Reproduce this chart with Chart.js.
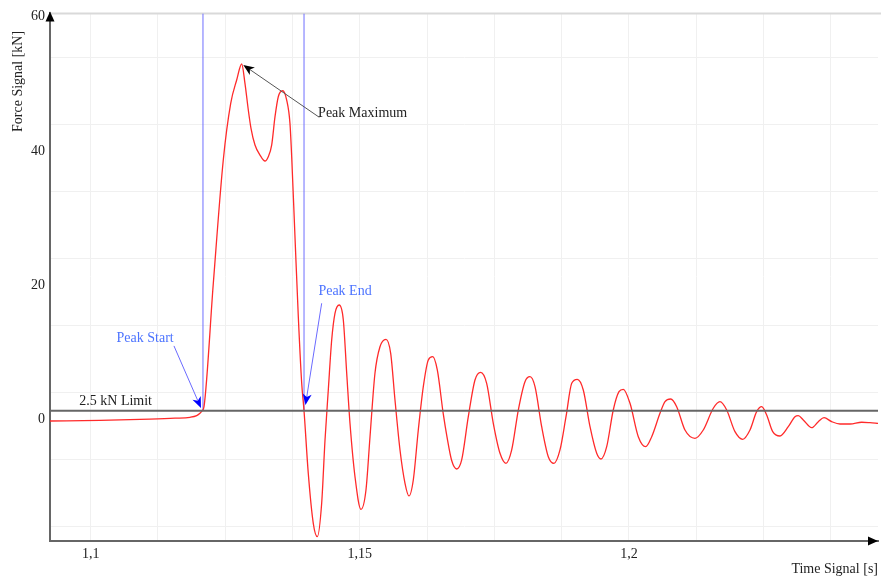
<!DOCTYPE html>
<html>
<head>
<meta charset="utf-8">
<script src="https://cdn.jsdelivr.net/npm/chart.js@4.4.0/dist/chart.umd.min.js"></script>
<style>
  html, body { margin: 0; padding: 0; background: #fff; }
  #wrap { width: 881px; height: 580px; position: relative; }
</style>
</head>
<body>
<div id="wrap"><canvas id="force"></canvas></div>
<script>
var curveTime = [
  1.09244, 1.10173, 1.11102, 1.11566, 1.11845, 1.11969, 1.12030, 1.12073, 1.12105, 1.12278,
  1.12463, 1.12601, 1.12712, 1.12805, 1.12866, 1.12928, 1.12978, 1.13052, 1.13145, 1.13238,
  1.13299, 1.13362, 1.13424, 1.13485, 1.13567, 1.13641, 1.13702, 1.13734, 1.13795, 1.13857,
  1.13920, 1.13962, 1.14042, 1.14135, 1.14210, 1.14291, 1.14353, 1.14414, 1.14477, 1.14538,
  1.14618, 1.14693, 1.14756, 1.14817, 1.14910, 1.15021, 1.15114, 1.15189, 1.15281, 1.15374,
  1.15486, 1.15573, 1.15653, 1.15746, 1.15839, 1.15913, 1.15993, 1.16086, 1.16179, 1.16272,
  1.16353, 1.16439, 1.16550, 1.16619, 1.16706, 1.16799, 1.16892, 1.17015, 1.17139, 1.17245,
  1.17356, 1.17479, 1.17604, 1.17715, 1.17821, 1.17944, 1.18068, 1.18161, 1.18254, 1.18378,
  1.18501, 1.18607, 1.18718, 1.18830, 1.18936, 1.19040, 1.19151, 1.19276, 1.19400, 1.19480,
  1.19586, 1.19708, 1.19814, 1.19894, 1.20019, 1.20173, 1.20310, 1.20422, 1.20576, 1.20669,
  1.20775, 1.20886, 1.21040, 1.21226, 1.21380, 1.21566, 1.21690, 1.21815, 1.21969, 1.22112,
  1.22248, 1.22372, 1.22465, 1.22558, 1.22670, 1.22805, 1.22959, 1.23084, 1.23145, 1.23238,
  1.23394, 1.23517, 1.23623, 1.23766, 1.23920, 1.24106, 1.24323, 1.24477, 1.24626
];
var curveForce = [
  -0.30, -0.22, -0.02, 0.12, 0.25, 0.50, 0.85, 1.24, 1.83, 20.24,
  38.63, 47.08, 50.56, 52.95, 50.07, 46.09, 43.36, 40.86, 39.37, 38.48,
  39.12, 40.86, 45.09, 48.07, 48.96, 47.58, 44.10, 39.12, 27.19, 15.26,
  5.33, 1.34, -8.10, -15.56, -17.55, -12.57, -3.13, 4.33, 11.78, 15.76,
  17.00, 14.77, 6.82, -0.64, -8.61, -13.47, -10.59, -2.64, 6.82, 10.78,
  11.89, 9.80, 2.83, -4.62, -9.59, -11.48, -9.10, -1.64, 4.82, 8.80,
  9.29, 7.31, 0.75, -2.68, -6.20, -7.46, -6.11, 0.34, 5.82, 6.96,
  5.32, -0.64, -5.12, -6.61, -4.62, 1.34, 5.56, 6.31, 4.82, -1.15,
  -5.62, -6.61, -4.62, 0.34, 5.32, 5.92, 4.33, -1.15, -5.12, -5.97,
  -4.13, 1.34, 4.07, 4.43, 2.34, -2.64, -4.13, -2.64, 0.85, 2.58,
  2.98, 1.83, -1.64, -2.88, -1.64, 1.60, 2.58, 1.34, -1.89, -3.03,
  -1.64, 1.09, 1.83, 0.60, -1.89, -2.54, -1.15, 0.34, 0.49, -0.15,
  -1.30, -0.40, 0.19, -0.40, -0.75, -0.75, -0.49, -0.55, -0.64
];

var limitForce = 1.24;          // "2.5 kN Limit" line as drawn
var peakStartTime = 1.12086;
var peakEndTime = 1.13963;

var xRange = [1.09244, 1.24626];
var yRange = [-18.2, 60.5];
var xTickLabels = [1.1, 1.15, 1.2];
var yTickLabels = [0, 20, 40, 60];
var xGrid = [1.1, 1.1125, 1.125, 1.1375, 1.15, 1.1625, 1.175, 1.1875, 1.2, 1.2125, 1.225, 1.2375];
var yGrid = [-16.1, -6.1, 3.9, 13.9, 23.9, 33.9, 43.9, 53.9];

// annotation anchors in data units: [tailTime, tailForce, tipTime, tipForce]
var peakMaxArrow = [1.14247, 45.0, 1.12835, 52.8];
var peakStartArrow = [1.11547, 10.9, 1.12049, 1.64];
var peakEndArrow = [1.14291, 17.26, 1.13990, 2.09];
var labelTexts = ['Peak Maximum', 'Peak Start', 'Peak End', '2.5 kN Limit'];
var labelTimes = [1.14225, 1.11011, 1.14725, 1.09788];
var labelForces = [45.6, 12.1, 19.1, 2.68];

var serif = "'Liberation Serif', 'DejaVu Serif', serif";

function pts(xs, ys) {
  return xs.map(function (x, i) { return { x: x, y: ys[i] }; });
}
function near(v, list) {
  return list.some(function (w) { return Math.abs(w - v) < 1e-6; });
}

function arrow(ctx, c, a, lineColor, headColor) {
  var x0 = c.scales.x.getPixelForValue(a[0]), y0 = c.scales.y.getPixelForValue(a[1]);
  var x1 = c.scales.x.getPixelForValue(a[2]), y1 = c.scales.y.getPixelForValue(a[3]);
  var ang = Math.atan2(y1 - y0, x1 - x0);
  ctx.strokeStyle = lineColor;
  ctx.lineWidth = 1;
  ctx.beginPath();
  ctx.moveTo(x0, y0);
  ctx.lineTo(x1 - 8 * Math.cos(ang), y1 - 8 * Math.sin(ang));
  ctx.stroke();
  ctx.fillStyle = headColor;
  ctx.beginPath();
  ctx.moveTo(x1, y1);
  ctx.lineTo(x1 - 11 * Math.cos(ang) + 4.5 * Math.sin(ang), y1 - 11 * Math.sin(ang) - 4.5 * Math.cos(ang));
  ctx.lineTo(x1 - 8 * Math.cos(ang), y1 - 8 * Math.sin(ang));
  ctx.lineTo(x1 - 11 * Math.cos(ang) - 4.5 * Math.sin(ang), y1 - 11 * Math.sin(ang) + 4.5 * Math.cos(ang));
  ctx.closePath();
  ctx.fill();
}

var decorations = {
  id: 'decorations',
  beforeDatasetsDraw: function (c) {
    var ctx = c.ctx, a = c.chartArea;
    ctx.save();
    ctx.strokeStyle = '#d9d9d9';
    ctx.lineWidth = 2;
    ctx.beginPath();
    ctx.moveTo(a.left, a.top);
    ctx.lineTo(c.width, a.top);
    ctx.stroke();
    ctx.restore();
  },
  afterDatasetsDraw: function (c) {
    var ctx = c.ctx, a = c.chartArea;
    ctx.save();
    arrow(ctx, c, peakMaxArrow, '#555', '#000');
    arrow(ctx, c, peakStartArrow, '#6a6aff', '#0000ff');
    arrow(ctx, c, peakEndArrow, '#6a6aff', '#0000ff');

    ctx.font = '14px ' + serif;
    ctx.textBaseline = 'middle';
    var colors = ['#222', '#4d74ff', '#4d74ff', '#222'];
    var aligns = ['left', 'center', 'center', 'left'];
    for (var i = 0; i < labelTexts.length; i++) {
      ctx.fillStyle = colors[i];
      ctx.textAlign = aligns[i];
      ctx.fillText(labelTexts[i], c.scales.x.getPixelForValue(labelTimes[i]), c.scales.y.getPixelForValue(labelForces[i]));
    }

    // axis arrow heads
    ctx.fillStyle = '#000';
    ctx.beginPath();
    ctx.moveTo(a.left, a.top - 2);
    ctx.lineTo(a.left - 4.5, a.top + 8);
    ctx.lineTo(a.left + 4.5, a.top + 8);
    ctx.closePath();
    ctx.fill();
    ctx.beginPath();
    ctx.moveTo(a.right, a.bottom);
    ctx.lineTo(a.right - 10, a.bottom - 4.5);
    ctx.lineTo(a.right - 10, a.bottom + 4.5);
    ctx.closePath();
    ctx.fill();

    // y axis title, sits near the top of the axis
    ctx.translate(a.left - 32, a.top + 68);
    ctx.rotate(-Math.PI / 2);
    ctx.textAlign = 'center';
    ctx.fillStyle = '#222';
    ctx.fillText('Force Signal [kN]', 0, 0);
    ctx.restore();
  }
};

var ctx = document.getElementById('force').getContext('2d');
var forceChart = new Chart(ctx, {
  type: 'line',
  data: {
    datasets: [
      {
        label: 'limit',
        data: pts(xRange, [limitForce, limitForce]),
        borderColor: '#666',
        borderWidth: 2,
        pointRadius: 0,
        order: 0
      },
      {
        label: 'force',
        data: pts(curveTime, curveForce),
        borderColor: '#ff2a2a',
        borderWidth: 1.3,
        pointRadius: 0,
        cubicInterpolationMode: 'monotone',
        order: 1
      },
      {
        label: 'peak start',
        data: pts([peakStartTime, peakStartTime], [limitForce, yRange[1]]),
        borderColor: '#6f6fff',
        borderWidth: 1,
        pointRadius: 0,
        order: 2
      },
      {
        label: 'peak end',
        data: pts([peakEndTime, peakEndTime], [limitForce, yRange[1]]),
        borderColor: '#6f6fff',
        borderWidth: 1,
        pointRadius: 0,
        order: 2
      }
    ]
  },
  options: {
    responsive: true,
    maintainAspectRatio: false,
    animation: false,
    layout: { padding: { top: 13, right: 3, left: 0, bottom: 0 } },
    plugins: { legend: { display: false }, tooltip: { enabled: false } },
    scales: {
      x: {
        type: 'linear',
        min: xRange[0],
        max: xRange[1],
        afterBuildTicks: function (s) {
          s.ticks = xGrid.map(function (v) { return { value: v }; });
        },
        afterFit: function (s) { s.height = 39; },
        ticks: {
          autoSkip: false,
          maxRotation: 0,
          padding: 5,
          color: '#222',
          font: { family: serif, size: 14 },
          callback: function (v) { return near(v, xTickLabels) ? String(v).replace('.', ',') : ''; }
        },
        grid: { color: '#f0f0f0', drawTicks: false },
        border: { color: '#666', width: 2 },
        title: {
          display: true,
          text: 'Time Signal [s]',
          align: 'end',
          color: '#222',
          font: { family: serif, size: 14 },
          padding: { top: 1, bottom: 2 }
        }
      },
      y: {
        type: 'linear',
        min: yRange[0],
        max: yRange[1],
        afterBuildTicks: function (s) {
          s.ticks = yGrid.concat(yTickLabels).sort(function (p, q) { return p - q; })
            .map(function (v) { return { value: v }; });
        },
        afterFit: function (s) { s.width = 50; },
        ticks: {
          autoSkip: false,
          padding: 5,
          color: '#222',
          font: { family: serif, size: 14 },
          callback: function (v) { return near(v, yTickLabels) ? String(v) : ''; }
        },
        grid: {
          drawTicks: false,
          color: function (c) { return c.tick && near(c.tick.value, yTickLabels) ? 'rgba(0,0,0,0)' : '#f0f0f0'; }
        },
        border: { color: '#666', width: 2 }
      }
    }
  },
  plugins: [decorations]
});
</script>
</body>
</html>
